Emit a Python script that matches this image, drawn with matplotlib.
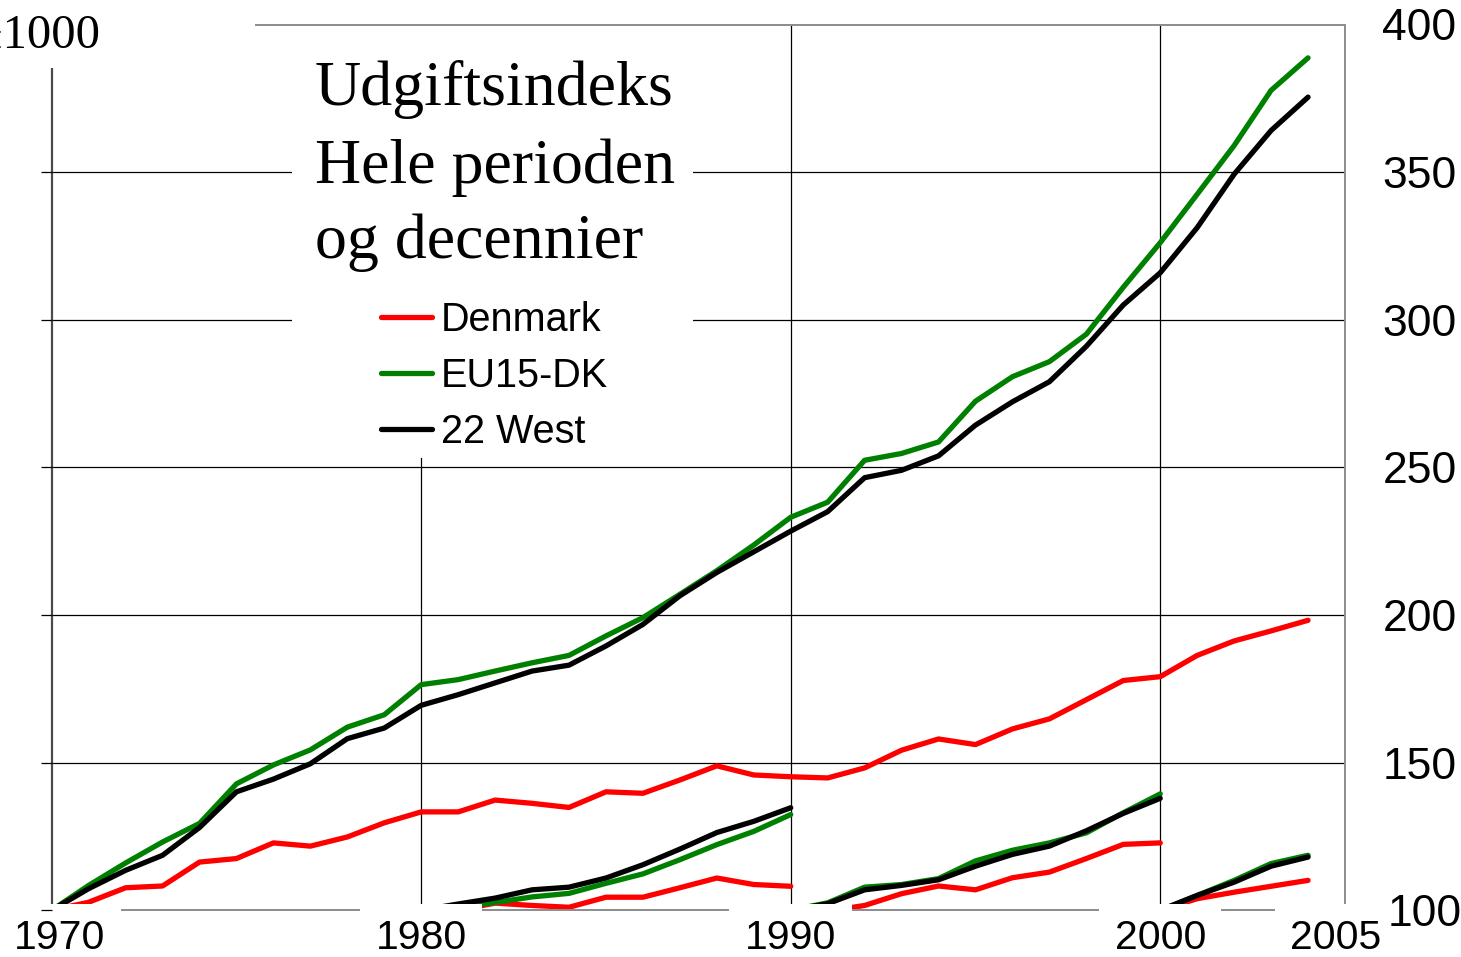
import numpy as np
import matplotlib.pyplot as plt
from matplotlib.patches import Rectangle
from matplotlib.transforms import ScaledTranslation

plt.rcParams['font.family'] = ['Liberation Sans', 'DejaVu Sans']

# hele perioden 1970-2004, indeks 1970 = 100
years = np.arange(1970, 2005)
denmark = [100, 102.7, 107.6, 108.2, 116.3, 117.5, 122.8, 121.7, 124.8, 129.6,
           133.3, 133.3, 137.3, 136.2, 134.8, 140.1, 139.6, 144.1, 148.9, 145.8,
           145.2, 144.8, 148.2, 154.2, 158.0, 156.1, 161.4, 164.8, 171.3, 177.8,
           179.1, 186.3, 191.2, 194.6, 198.2]
eu15_dk = [100, 108.4, 116.0, 123.1, 129.4, 142.8, 149.2, 154.3, 162.0, 166.2,
           176.4, 178.1, 181.0, 183.8, 186.3, 192.9, 199.1, 207.0, 215.0, 223.7,
           233.1, 238.2, 252.4, 254.7, 258.6, 272.4, 280.7, 285.8, 295.1, 311.0,
           326.1, 342.5, 359.0, 377.7, 388.7]
west22 = [100, 107.3, 113.5, 118.6, 128.0, 140.1, 144.4, 149.6, 158.1, 161.7,
          169.4, 173.0, 177.0, 181.0, 183.0, 189.5, 196.8, 206.5, 214.4, 221.4,
          228.4, 235.0, 246.5, 249.0, 253.9, 264.3, 272.2, 279.0, 291.0, 305.0,
          315.9, 331.2, 349.3, 364.1, 375.4]

# decennier, indeks start = 100
years_80 = np.arange(1980, 1991)
dk_80 = [100, 100, 102.4, 101.6, 101.0, 104.4, 104.4, 107.6, 110.9, 108.7, 108.1]
eu_80 = [100, 101.0, 102.6, 104.5, 105.7, 109.1, 112.3, 117.1, 122.2, 126.7, 132.4]
w22_80 = [100, 102.1, 104.1, 106.9, 107.8, 110.9, 115.4, 120.7, 126.3, 130.1, 134.7]

years_90 = np.arange(1990, 2001)
dk_90 = [100, 99.7, 101.6, 105.6, 108.2, 106.9, 111.0, 112.9, 117.5, 122.3, 122.8]
eu_90 = [100, 102.5, 107.8, 108.7, 110.7, 116.7, 120.3, 122.8, 126.2, 133.0, 139.4]
w22_90 = [100, 102.2, 106.9, 108.4, 110.3, 114.9, 118.9, 121.7, 126.9, 132.8, 137.9]

years_00 = np.arange(2000, 2005)
dk_00 = [100, 103.9, 106.1, 108.1, 110.1]
eu_00 = [100, 105.0, 110.1, 115.8, 118.6]
w22_00 = [100, 105.0, 109.5, 114.9, 118.0]

labels = ['Denmark', 'EU15-DK', '22 West']
colors = ['#ff0000', '#008000', '#000000']
xticks = [1970, 1980, 1990, 2000, 2005]
yticks = [100, 150, 200, 250, 300, 350, 400]

W, H = 1461, 957
def fx(px):
    return px / W
def fy(py):
    return 1 - py / H

fig = plt.figure(figsize=(W / 100, H / 100), dpi=100)
ax = fig.add_axes([fx(51.7), fy(910.2), fx(1345) - fx(51.7), (910.2 - 24.5) / H])

lw = 3.8
full = [denmark, eu15_dk, west22]
handles = []
for vals, c, lab in zip(full, colors, labels):
    h, = ax.plot(years, vals, color=c, lw=lw, label=lab, solid_capstyle='round')
    handles.append(h)
for yrs, series in [(years_80, [dk_80, eu_80, w22_80]),
                    (years_90, [dk_90, eu_90, w22_90]),
                    (years_00, [dk_00, eu_00, w22_00])]:
    for vals, c in zip(series, colors):
        ax.plot(yrs, vals, color=c, lw=lw, solid_capstyle='round')

ax.set_xlim(1970, 2005)
ax.set_ylim(100, 400)
ax.set_xticks(xticks)
ax.set_yticks(yticks)

# gitter under kurverne
for t in yticks[1:-1]:
    ax.axhline(t, color='black', lw=0.9, zorder=1)
for t in xticks[1:-1]:
    ax.axvline(t, color='black', lw=0.9, zorder=1)

for side in ['top', 'right', 'bottom']:
    ax.spines[side].set_color('#8c8c8c')
    ax.spines[side].set_linewidth(1.4)
ax.spines['left'].set_color('#4a4a4a')
ax.spines['left'].set_linewidth(1.6)

ax.tick_params(axis='y', direction='out', length=7.9, width=0.9, color='black',
               left=True, right=False, labelleft=False, labelright=True,
               labelsize=32, pad=19)
ax.tick_params(axis='x', length=0, labelsize=29.5, pad=6.5)
ax.xaxis.set_zorder(3)
ax.yaxis.set_zorder(3.5)
for lab in ax.get_xticklabels():
    lab.set_bbox(dict(boxstyle='square,pad=0.38', facecolor='white', edgecolor='none'))
for lab in ax.get_yticklabels():
    lab.set_bbox(dict(boxstyle='square,pad=0.12', facecolor='white', edgecolor='none'))

# yderste etiketter skubbes lidt ind, som i originalen
def shift(label, dx):
    label.set_transform(label.get_transform() + ScaledTranslation(dx / 100, 0, fig.dpi_scale_trans))

xt = ax.xaxis.get_major_ticks()
shift(xt[0].label1, 8)
shift(xt[-1].label1, -9)
shift(ax.yaxis.get_major_ticks()[0].label2, 5)

# hvid boks bag titel og forklaring (dækker gitteret, ikke rammen)
box = Rectangle((fx(292), fy(458)), fx(693) - fx(292), (458 - 20) / H,
                transform=fig.transFigure, facecolor='white', edgecolor='none', zorder=2.4)
box.set_clip_on(False)
ax.add_artist(box)

serif = ['Liberation Serif', 'DejaVu Serif']
for txt, base in zip(['Udgiftsindeks', 'Hele perioden', 'og decennier'], [105, 183, 258]):
    fig.text(fx(315), fy(base), txt, family=serif, fontsize=46, va='baseline', ha='left', zorder=6)

ax.legend(handles=handles, loc='center left', bbox_to_anchor=(fx(381), fy(376)),
          bbox_transform=fig.transFigure, frameon=False, fontsize=28.5,
          handlelength=1.3, handletextpad=0.22, labelspacing=0.45,
          borderpad=0, borderaxespad=0).set_zorder(6)

# hjoerne oppe til venstre
corner = Rectangle((0, fy(68)), fx(255), 68 / H, transform=fig.transFigure,
                   facecolor='white', edgecolor='none', zorder=1)
fig.add_artist(corner)
fig.text(fx(100), fy(48), '\u00b11000', family=serif, fontsize=35, ha='right',
         va='baseline', zorder=3)

fig.savefig('out.png', dpi=100)
